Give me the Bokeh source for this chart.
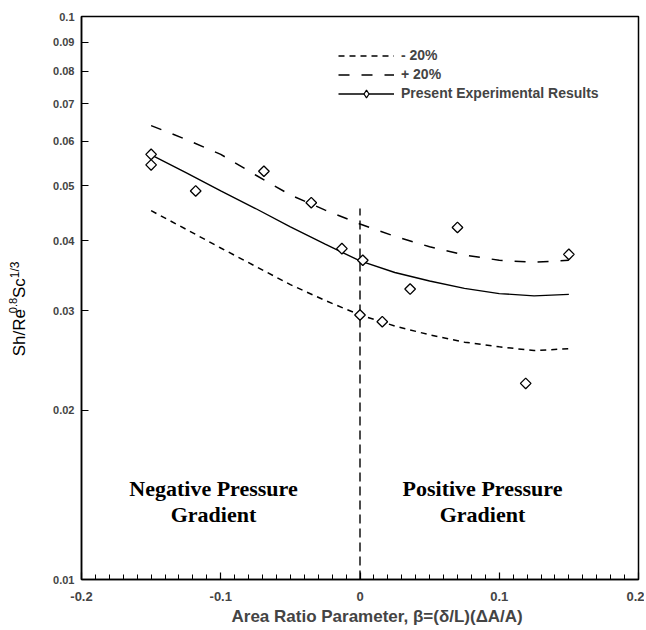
import math
from bokeh.plotting import figure
from bokeh.layouts import row
from bokeh.models import (FixedTicker, CustomJSTickFormatter, Label, Legend,
                          LegendItem, Range1d, Title)
from bokeh.embed import file_html
from bokeh.resources import INLINE

# ---------------- data ----------------
# experimental points (beta, Sh/Re^0.8 Sc^1/3)
beta_pts = [-0.150, -0.150, -0.118, -0.069, -0.035, -0.013, 0.002, 0.000,
            0.016, 0.036, 0.070, 0.119, 0.150]
sh_pts = [0.0569, 0.0545, 0.0490, 0.0531, 0.0467, 0.0387, 0.0369, 0.0295,
          0.0287, 0.0328, 0.0422, 0.0223, 0.0378]

# fitted curve and +/- 20 % bands, read at these beta values
curve_beta = [-0.15, -0.125, -0.1, -0.075, -0.05, -0.025, 0.0, 0.025, 0.05,
              0.075, 0.1, 0.125, 0.15]
present_fit = [0.0568, 0.0528, 0.0490, 0.0456, 0.0423, 0.0394, 0.0368,
               0.0351, 0.0339, 0.0329, 0.0322, 0.0319, 0.0321]
plus20 = [0.0640, 0.0605, 0.0569, 0.0523, 0.0482, 0.0453, 0.0428, 0.0407,
          0.0390, 0.0377, 0.0369, 0.0366, 0.0369]
minus20 = [0.0452, 0.0419, 0.0388, 0.0360, 0.0334, 0.0313, 0.0295, 0.0282,
           0.0272, 0.0264, 0.0259, 0.0255, 0.0257]

# vertical divider at beta = 0
divider_beta = [0.0, 0.0]
divider_sh = [0.01, 0.0456]

x_ticks = [-0.2, -0.1, 0.0, 0.1, 0.2]
x_tick_labels = ["-0.2", "-0.1", "0", "0.1", "0.2"]
y_ticks = [0.01, 0.02, 0.03, 0.04, 0.05, 0.06, 0.07, 0.08, 0.09, 0.1]
y_tick_labels = ["0.01", "0.02", "0.03", "0.04", "0.05", "0.06", "0.07",
                 "0.08", "0.09", "0.1"]

X0, X1 = -0.2, 0.2
Y0, Y1 = 0.01, 0.1

# ---------------- layout (pixels) ----------------
YLAB_W = 40                      # strip holding the y-axis title
FL, FT, FW, FH = 81, 16, 557, 563  # frame position on the page
BORDER_B = 49
TOTAL_H = FT + FH + BORDER_B


def px_x(px):
    return X0 + (px - FL) / FW * (X1 - X0)


def px_y(py):
    return 10 ** (math.log10(Y1) - (py - FT) / FH * (math.log10(Y1) - math.log10(Y0)))


p = figure(width=(FL - YLAB_W) + FW + 6, height=TOTAL_H,
           x_range=Range1d(X0, X1), y_range=Range1d(Y0, Y1),
           y_axis_type="log", output_backend="svg", toolbar_location=None,
           min_border_left=FL - YLAB_W, min_border_right=6, min_border_top=FT,
           min_border_bottom=BORDER_B, background_fill_color="white",
           border_fill_color="white")
p.xgrid.visible = False
p.ygrid.visible = False
p.outline_line_color = "black"
p.outline_line_width = 1.5

minor_x = [round(-0.2 + 0.01 * i, 2) for i in range(41)]
minor_x = [m for m in minor_x if all(abs(m - t) > 1e-9 for t in x_ticks)]

xa = p.xaxis[0]
xa.ticker = FixedTicker(ticks=x_ticks, minor_ticks=minor_x)
xa.formatter = CustomJSTickFormatter(
    args=dict(xt=x_ticks, xl=x_tick_labels),
    code="""
      for (let i = 0; i < xt.length; i++) {
        if (Math.abs(tick - xt[i]) < 1e-9) return xl[i];
      }
      return '';
    """)
xa.major_tick_in = 7
xa.major_tick_out = 0
xa.minor_tick_in = 5
xa.minor_tick_out = 0
xa.axis_line_width = 1.5
xa.major_tick_line_width = 1.2
xa.minor_tick_line_width = 1.0
xa.major_label_text_font = "Liberation Sans"
xa.major_label_text_font_style = "bold"
xa.major_label_text_font_size = "13px"
xa.major_label_standoff = 12

ya = p.yaxis[0]
ya.ticker = FixedTicker(ticks=y_ticks, minor_ticks=[])
ya.formatter = CustomJSTickFormatter(
    args=dict(yt=y_ticks, yl=y_tick_labels),
    code="""
      for (let i = 0; i < yt.length; i++) {
        if (Math.abs(tick - yt[i]) < 1e-9) return yl[i];
      }
      return '';
    """)
ya.major_tick_in = 7
ya.major_tick_out = 0
ya.minor_tick_in = 0
ya.minor_tick_out = 0
ya.axis_line_width = 1.5
ya.major_tick_line_width = 1.2
ya.major_label_text_font = "Liberation Sans"
ya.major_label_text_font_style = "bold"
ya.major_label_text_font_size = "11px"
ya.major_label_standoff = 7

# x-axis title, shifted right as in the reference
p.add_layout(Title(text="Area Ratio Parameter, \u03b2=(\u03b4/L)(\u0394A/A)",
                   align="left", offset=150, standoff=2,
                   text_font="Liberation Sans", text_font_style="bold",
                   text_font_size="17px"), "below")

# ---------------- curves and points ----------------
r_minus = p.line(curve_beta, minus20, line_color="black", line_width=1.5,
                 line_dash="6 5")
r_plus = p.line(curve_beta, plus20, line_color="black", line_width=1.5,
                line_dash="11 12")
r_fit = p.line(curve_beta, present_fit, line_color="black", line_width=1.4)
p.line(divider_beta, divider_sh, line_color="black", line_width=1.4,
       line_dash="9 5")
r_pts = p.scatter(beta_pts, sh_pts, marker="square", angle=math.pi / 4,
                  size=7.5, fill_color="white", line_color="black",
                  line_width=1.3)
# legend swatch: same points as an open diamond, not drawn in the plot
r_key = p.scatter(beta_pts, sh_pts, marker="diamond", size=10,
                  fill_color="white", line_color="black", line_width=1.2,
                  visible=False)

legend = Legend(items=[
    LegendItem(label="- 20%", renderers=[r_minus]),
    LegendItem(label="+ 20%", renderers=[r_plus]),
    LegendItem(label="Present Experimental Results", renderers=[r_fit, r_key]),
], location=(338 - FL, (FT + FH) - 102.5), padding=0, margin=0, spacing=0,
    glyph_height=19, label_height=19, glyph_width=56, label_standoff=7,
    border_line_color=None, background_fill_alpha=0,
    label_text_font="Liberation Sans", label_text_font_style="bold",
    label_text_font_size="14px")
p.add_layout(legend)


def lab(text, px, py, size, font="Liberation Sans", style="bold",
        align="center", baseline="middle", angle=0.0):
    p.add_layout(Label(x=px_x(px), y=px_y(py), text=text, text_font=font,
                       text_font_size=f"{size}px", text_font_style=style,
                       text_align=align, text_baseline=baseline, angle=angle,
                       text_color="black"))


# region annotations
serif = "Liberation Serif"
lab("Negative Pressure", 213, 488, 22, font=serif)
lab("Gradient", 213, 514, 22, font=serif)
lab("Positive Pressure", 482, 488, 22, font=serif)
lab("Gradient", 482, 514, 22, font=serif)

# ---------------- strip with the y-axis title (superscripts) ----------------
q = figure(width=YLAB_W, height=TOTAL_H, x_range=Range1d(0, YLAB_W),
           y_range=Range1d(TOTAL_H, 0), x_axis_type=None, y_axis_type=None,
           output_backend="svg", toolbar_location=None, min_border=0,
           min_border_left=0, min_border_right=0, min_border_top=0,
           min_border_bottom=0, outline_line_color=None,
           background_fill_color="white", border_fill_color="white")
q.xgrid.visible = False
q.ygrid.visible = False


def qlab(text, px, py, size):
    q.add_layout(Label(x=px, y=py, text=text, text_font="Liberation Sans",
                       text_font_size=f"{size}px", text_align="left",
                       text_baseline="alphabetic", angle=math.pi / 2,
                       text_color="black"))


qlab("Sh/Re", 19, 379, 17)
qlab("0.8", 12, 331, 11)
qlab("Sc", 19, 314, 17)
qlab("1/3", 14, 292, 12)

layout = row(q, p, spacing=0)
open("out.html", "w").write(file_html(layout, INLINE))
